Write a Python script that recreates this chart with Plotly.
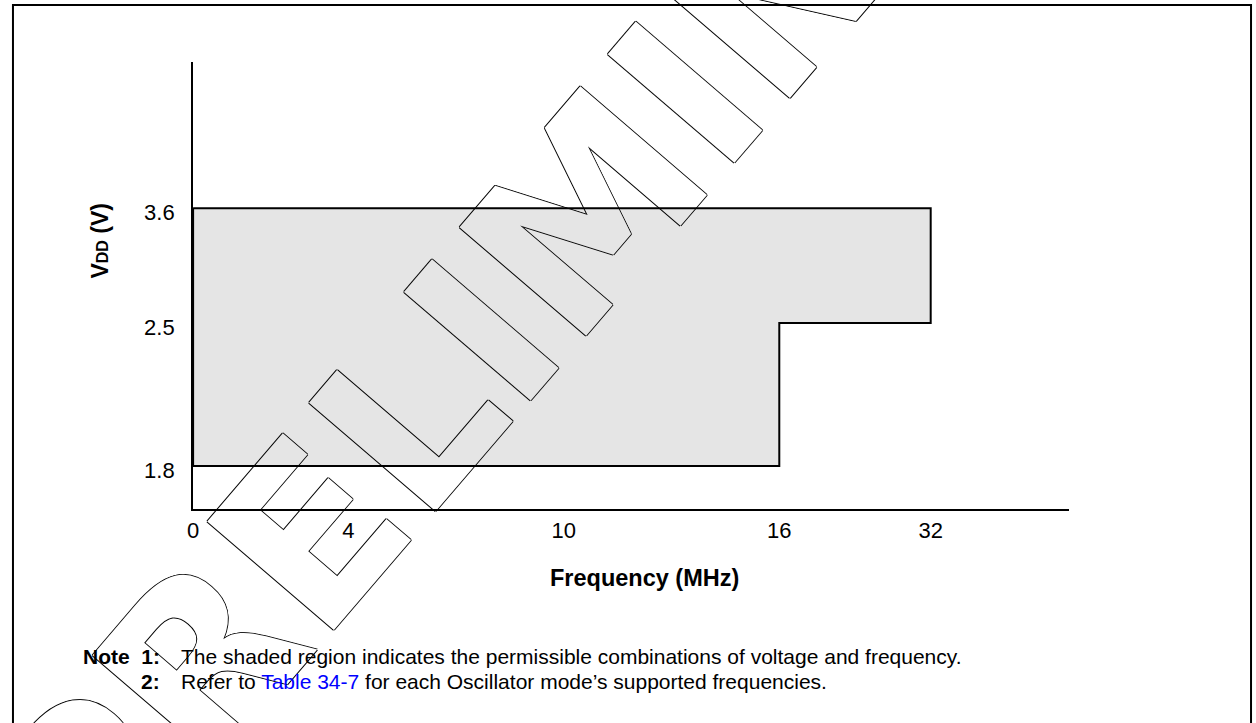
import plotly.graph_objects as go

# ---- data -------------------------------------------------------------
# Permissible operating region (frequency in MHz, VDD in volts), traced
# clockwise from the top-left corner.
region_freq_mhz = [0, 32, 32, 16, 16, 0, 0]
region_vdd_v = [3.6, 3.6, 2.5, 2.5, 1.8, 1.8, 3.6]

# Axis tick labels
freq_ticks_mhz = [0, 4, 10, 16, 32]
vdd_ticks_v = [1.8, 2.5, 3.6]

# ---- schematic (non-proportional) axis layout --------------------------
# The figure is a schematic, so each labelled value sits in its own slot.
freq_axis_slot = [0, 4, 9.55, 15.1, 19]
vdd_axis_slot = [1, 4.33, 7]
FREQ_AXIS_END = 22.56
VDD_AXIS_END = 10.4

freq_to_slot = dict(zip(freq_ticks_mhz, freq_axis_slot))
vdd_to_slot = dict(zip(vdd_ticks_v, vdd_axis_slot))

W, H = 1256, 723
FONT = "Liberation Sans, Arial, sans-serif"

fig = go.Figure()

# Watermark, drawn on a full-page pixel subplot underneath the chart.
fig.add_trace(go.Bar(
    x=[601], y=[19], base=[183], width=[10],
    xaxis="x", yaxis="y",
    marker=dict(color="rgba(0,0,0,0)", line=dict(width=0)),
    text=["PRELIMINARY"],
    textposition="inside",
    insidetextanchor="middle",
    textangle=-49.4,
    constraintext="none",
    cliponaxis=False,
    textfont=dict(
        family="DejaVu Sans", size=229, weight=700, color="white",
        shadow="1px 0 0 #000, -1px 0 0 #000, 0 1px 0 #000, 0 -1px 0 #000",
    ),
    hoverinfo="skip",
    showlegend=False,
))

# Shaded operating region
fig.add_trace(go.Scatter(
    x=[freq_to_slot[f] for f in region_freq_mhz],
    y=[vdd_to_slot[v] for v in region_vdd_v],
    xaxis="x2", yaxis="y2",
    mode="lines",
    fill="toself",
    fillcolor="rgba(0,0,0,0.1)",
    line=dict(color="black", width=2),
    hoverinfo="skip",
    showlegend=False,
))

fig.update_layout(
    width=W, height=H,
    margin=dict(l=0, r=0, t=0, b=0),
    paper_bgcolor="white",
    plot_bgcolor="rgba(0,0,0,0)",
    showlegend=False,
    xaxis=dict(domain=[0, 1], range=[0, W], visible=False, fixedrange=True),
    yaxis=dict(domain=[0, 1], range=[H, 0], visible=False, fixedrange=True),
    xaxis2=dict(
        domain=[188 / W, 1068 / W], anchor="y2",
        range=[0, FREQ_AXIS_END],
        showline=True, linecolor="black", linewidth=2,
        showgrid=False, zeroline=False,
        ticks="outside", ticklen=1, tickcolor="rgba(0,0,0,0)",
        tickmode="array",
        tickvals=freq_axis_slot,
        ticktext=[str(f) for f in freq_ticks_mhz],
        tickfont=dict(family=FONT, size=22, color="black"),
    ),
    yaxis2=dict(
        domain=[(H - 509) / H, (H - 62) / H], anchor="x2",
        range=[0, VDD_AXIS_END],
        showline=True, linecolor="black", linewidth=2,
        showgrid=False, zeroline=False,
        ticks="outside", ticklen=12, tickcolor="rgba(0,0,0,0)",
        ticklabelshift=4,
        tickmode="array",
        tickvals=vdd_axis_slot,
        ticktext=[f"{v:.1f}" for v in vdd_ticks_v],
        tickfont=dict(family=FONT, size=22, color="black"),
    ),
)


def label(x_px, y_px, text, size, xanchor="center", angle=0):
    fig.add_annotation(
        x=x_px / W, y=(H - y_px) / H, xref="paper", yref="paper",
        xanchor=xanchor, yanchor="middle", textangle=angle,
        text=text, showarrow=False,
        font=dict(family=FONT, size=size, color="black"),
    )


# Axis titles
label(642, 578, "<b>Frequency (MHz)</b>", 23.5)
label(94, 241, "<b>V<span style='font-size:16px'>DD</span> (V)</b>", 23, angle=-90)

# Notes
label(157, 656, "<b>Note&nbsp;&nbsp;1:</b>", 21, xanchor="right")
label(174, 656,
      "The shaded region indicates the permissible combinations of voltage and frequency.",
      21, xanchor="left")
label(157, 681, "<b>2:</b>", 21, xanchor="right")
label(174, 681,
      "Refer to <span style='color:#0000ff'>Table 34-7</span> for each Oscillator mode’s supported frequencies.",
      21, xanchor="left")

# Figure frame
fig.add_shape(
    type="rect", xref="paper", yref="paper",
    x0=7 / W, x1=1251 / W, y0=-0.05, y1=(H - 5) / H,
    line=dict(color="black", width=2), layer="above",
)

fig.write_html("out.html")
